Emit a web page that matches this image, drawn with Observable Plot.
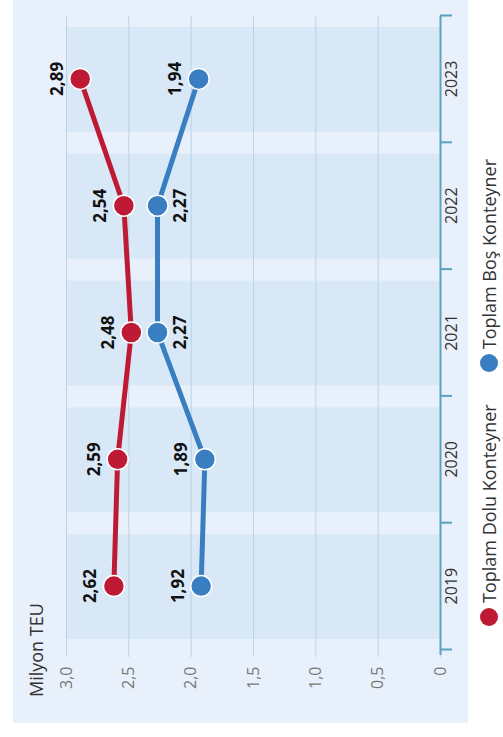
<!DOCTYPE html>
<html>
<head>
<meta charset="utf-8">
<script src="https://cdn.jsdelivr.net/npm/d3@7"></script>
<script src="https://cdn.jsdelivr.net/npm/@observablehq/plot@0.6"></script>
<style>
  html, body { margin: 0; padding: 0; background: #ffffff; width: 503px; height: 737px; overflow: hidden; }
  #rot { position: absolute; left: 0; top: 0; width: 737px; height: 503px; transform-origin: 0 0;
         transform: translate(0, 737px) rotate(-90deg); font-family: "Open Sans", sans-serif; }
  #panel { position: absolute; left: 14px; top: 13px; width: 723px; height: 455px; background: #e8f0fb; }
  #chart { position: absolute; left: 0; top: 0; }
  #ylabel { position: absolute; left: 40px; top: 27px; font-size: 18px; line-height: 18px; color: #333; white-space: nowrap; }
  #legend { position: absolute; left: 111px; top: 480px; display: flex; align-items: center; font-size: 18px; line-height: 18px; color: #333; white-space: nowrap; }
  .item { display: flex; align-items: center; margin-right: 32px; }
  .sw { width: 18px; height: 18px; border-radius: 50%; margin-right: 5px; }
</style>
</head>
<body>
<div id="rot">
  <div id="panel"></div>
  <div id="chart"></div>
  <div id="ylabel"></div>
  <div id="legend"></div>
</div>
<script>
const years = [2019, 2020, 2021, 2022, 2023];
const dolu = [2.62, 2.59, 2.48, 2.54, 2.89];
const bos = [1.92, 1.89, 2.27, 2.27, 1.94];
const yTicks = [0, 0.5, 1, 1.5, 2, 2.5, 3];
const seriesNames = ["Toplam Dolu Konteyner", "Toplam Boş Konteyner"];
const seriesColors = ["#be1a35", "#3a7ec2"];
const unitLabel = "Milyon TEU";

const tickFmt = v => v === 0 ? "0" : v.toFixed(1).replace(".", ",");
const valFmt = v => v.toFixed(2).replace(".", ",");

const data = years.flatMap((yr, i) => [
  {year: yr, value: dolu[i], series: seriesNames[0], below: false},
  {year: yr, value: bos[i], series: seriesNames[1], below: (dolu[i] - bos[i]) < 0.4}
]);
const bounds = years.map(y => y - 0.5).concat([years[years.length - 1] + 0.5]);

const teal = "#5aa3bf";
const grid = "#b6d4e6";

const chart = Plot.plot({
  width: 737,
  height: 468,
  marginLeft: 87,
  marginRight: 16,
  marginTop: 66,
  marginBottom: 28,
  style: {background: "transparent", fontFamily: "Open Sans, sans-serif", overflow: "visible"},
  x: {domain: [years[0] - 0.5, years[years.length - 1] + 0.5], axis: null},
  y: {domain: [0, 3], axis: null},
  color: {domain: seriesNames, range: seriesColors},
  marks: [
    Plot.rect(years, {x1: d => d - 0.5, x2: d => d + 0.5, y1: 0, y2: 3, insetLeft: 11, insetRight: 11, fill: "#d9e8f7"}),
    Plot.gridY(yTicks, {stroke: grid, strokeOpacity: 1, strokeWidth: 1}),
    Plot.axisY(yTicks, {tickSize: 7, tickPadding: 10, stroke: grid, strokeOpacity: 1, tickFormat: tickFmt, fontSize: 16, fill: "#777", label: null}),
    Plot.ruleY([0], {stroke: teal, strokeWidth: 2, insetLeft: -5}),
    Plot.axisX(bounds, {tickSize: 12, stroke: teal, strokeWidth: 2, strokeOpacity: 1, tickFormat: () => "", label: null}),
    Plot.axisX(years, {tickSize: 0, tickPadding: 5, tickFormat: d => String(d), fontSize: 16, fill: "#333", label: null}),
    Plot.line(data, {x: "year", y: "value", z: "series", stroke: "series", strokeWidth: 5}),
    Plot.dot(data, {x: "year", y: "value", r: 10.5, fill: "series", stroke: "white", strokeWidth: 1.5}),
    Plot.text(data.filter(d => !d.below), {x: "year", y: "value", text: d => valFmt(d.value), dy: -23, fontSize: 17, fontWeight: "bold", fill: "#111"}),
    Plot.text(data.filter(d => d.below), {x: "year", y: "value", text: d => valFmt(d.value), dy: 23, fontSize: 17, fontWeight: "bold", fill: "#111"})
  ]
});
document.getElementById("chart").appendChild(chart);
document.getElementById("ylabel").textContent = unitLabel;

const legend = document.getElementById("legend");
seriesNames.forEach((name, i) => {
  const item = document.createElement("div");
  item.className = "item";
  const sw = document.createElement("span");
  sw.className = "sw";
  sw.style.background = seriesColors[i];
  const t = document.createElement("span");
  t.textContent = name;
  item.appendChild(sw);
  item.appendChild(t);
  legend.appendChild(item);
});
</script>
</body>
</html>
